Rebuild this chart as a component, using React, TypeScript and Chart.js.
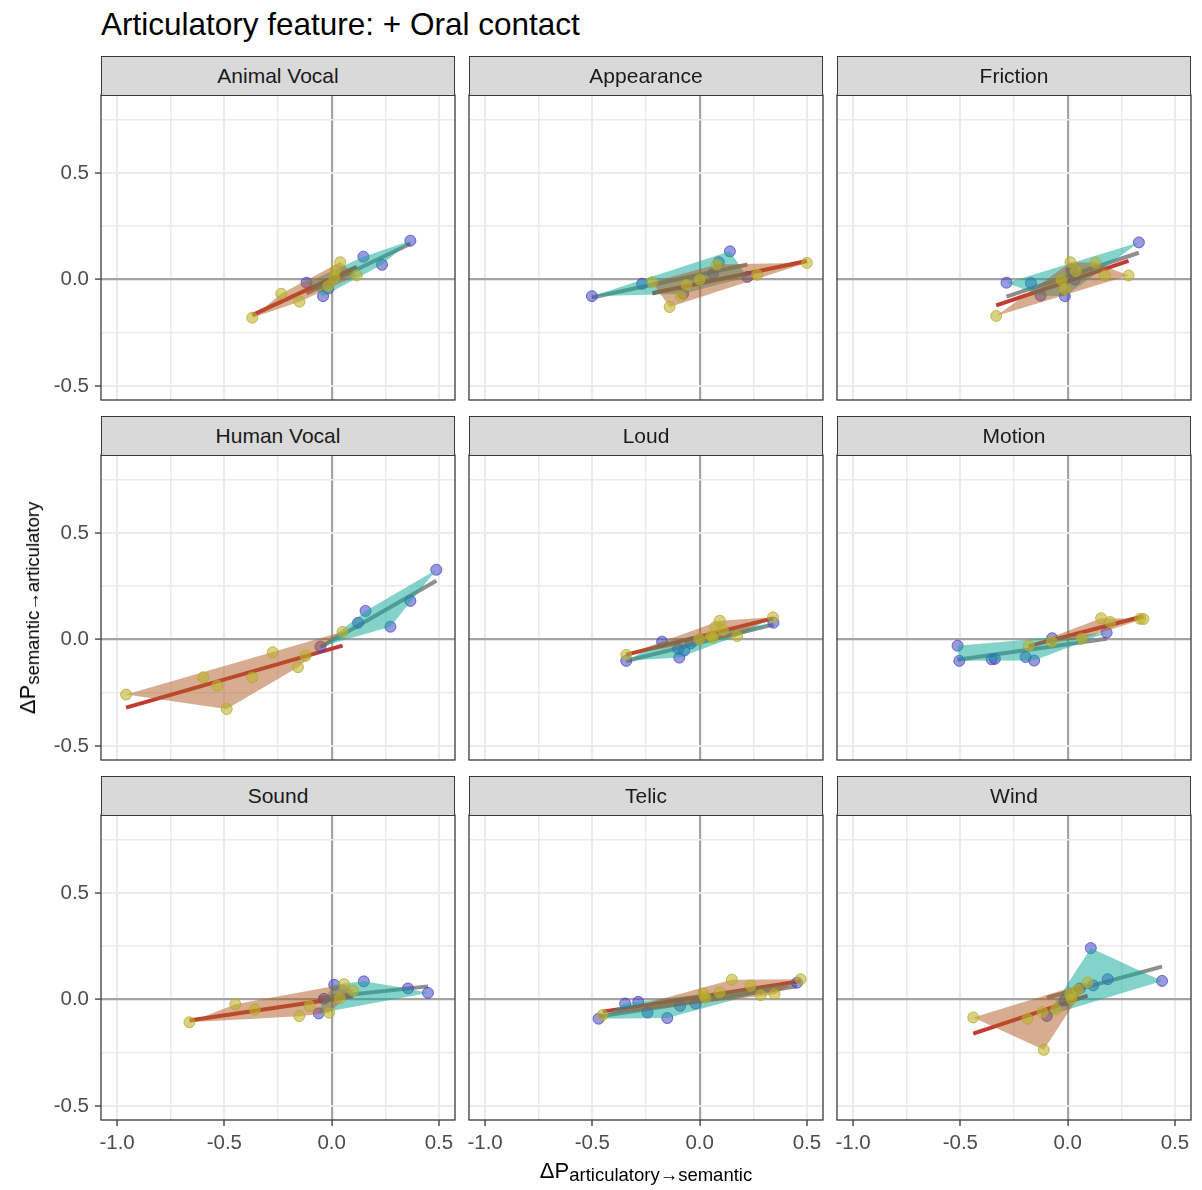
import React, { useEffect, useRef } from "react";
import { Chart, registerables } from "chart.js";

Chart.register(...registerables);

const FONT = '"Liberation Sans", Arial, Helvetica, sans-serif';

// ---------------- data ----------------
const panelTitles = [
  "Animal Vocal", "Appearance", "Friction",
  "Human Vocal", "Loud", "Motion",
  "Sound", "Telic", "Wind",
];

const xTickValues = [-1.0, -0.75, -0.5, -0.25, 0, 0.25, 0.5];
const yTickValues = [-0.5, -0.25, 0, 0.25, 0.5, 0.75];
const xLimits = [-1.075, 0.575];
const yLimits = [-0.565, 0.865];

const animalVocalBlueX = [0.367, 0.148, 0.235, -0.117, -0.040, -0.015];
const animalVocalBlueY = [0.182, 0.107, 0.069, -0.015, -0.078, -0.042];
const animalVocalYellowX = [-0.370, -0.235, -0.150, -0.016, 0.012, 0.018, 0.040, 0.117];
const animalVocalYellowY = [-0.179, -0.067, -0.104, -0.031, 0.008, 0.042, 0.081, 0.019];

const appearanceBlueX = [-0.502, -0.268, 0.141, 0.089, 0.063, 0.223, -0.077];
const appearanceBlueY = [-0.078, -0.020, 0.132, 0.081, 0.028, 0.012, -0.067];
const appearanceYellowX = [0.500, 0.268, 0.000, -0.061, -0.088, -0.140, -0.221, 0.080];
const appearanceYellowY = [0.078, 0.022, 0.000, -0.025, -0.078, -0.129, -0.012, 0.070];

const frictionBlueX = [0.332, -0.285, -0.171, -0.013, -0.126, 0.018, 0.034];
const frictionBlueY = [0.174, -0.015, -0.017, -0.078, -0.075, 0.044, 0.000];
const frictionYellowX = [-0.333, 0.013, 0.038, 0.130, 0.173, 0.284, -0.029, -0.013];
const frictionYellowY = [-0.171, 0.081, 0.039, 0.078, 0.019, 0.019, -0.003, -0.044];

const humanVocalBlueX = [0.488, 0.367, 0.158, 0.123, 0.274, -0.052];
const humanVocalBlueY = [0.327, 0.181, 0.134, 0.078, 0.060, -0.034];
const humanVocalYellowX = [-0.958, -0.598, -0.533, -0.489, -0.370, -0.275, -0.157, -0.122, 0.051];
const humanVocalYellowY = [-0.258, -0.177, -0.216, -0.326, -0.178, -0.060, -0.130, -0.077, 0.036];

const loudBlueX = [-0.342, -0.175, -0.100, -0.072, -0.095, -0.041, 0.344];
const loudBlueY = [-0.100, -0.010, -0.044, -0.052, -0.085, -0.018, 0.079];
const loudYellowX = [-0.342, -0.002, 0.052, 0.062, 0.074, 0.094, 0.109, 0.175, 0.342];
const loudYellowY = [-0.072, 0.001, 0.016, 0.010, 0.060, 0.088, 0.044, 0.016, 0.104];

const motionBlueX = [-0.513, -0.505, -0.354, -0.339, -0.196, -0.156, -0.072, 0.182];
const motionBlueY = [-0.029, -0.100, -0.093, -0.091, -0.082, -0.099, 0.006, 0.032];
const motionYellowX = [-0.181, -0.074, 0.066, 0.156, 0.198, 0.338, 0.353];
const motionYellowY = [-0.029, -0.010, 0.004, 0.100, 0.082, 0.097, 0.096];

const soundBlueX = [0.012, 0.150, 0.356, 0.449, -0.060, -0.036];
const soundBlueY = [0.069, 0.085, 0.052, 0.031, -0.065, 0.003];
const soundYellowX = [-0.663, -0.449, -0.358, -0.151, -0.103, -0.012, 0.038, 0.058, 0.100];
const soundYellowY = [-0.107, -0.022, -0.047, -0.078, -0.031, -0.062, 0.005, 0.072, 0.041];

const telicBlueX = [-0.471, -0.347, -0.286, -0.243, -0.151, -0.091, -0.019, 0.454];
const telicBlueY = [-0.090, -0.019, -0.011, -0.061, -0.087, -0.030, -0.019, 0.079];
const telicYellowX = [-0.452, 0.018, 0.027, 0.093, 0.150, 0.238, 0.285, 0.349, 0.471];
const telicYellowY = [-0.073, 0.028, 0.009, 0.033, 0.093, 0.065, 0.020, 0.025, 0.095];

const windBlueX = [0.108, 0.440, 0.187, 0.119, 0.057, -0.013, -0.097];
const windBlueY = [0.241, 0.087, 0.095, 0.066, 0.052, -0.004, -0.077];
const windYellowX = [-0.440, -0.187, -0.117, -0.111, -0.054, 0.012, 0.018, 0.047, 0.093];
const windYellowY = [-0.084, -0.090, -0.059, -0.236, -0.046, 0.023, 0.003, 0.045, 0.080];

const panelBlueX = [animalVocalBlueX, appearanceBlueX, frictionBlueX, humanVocalBlueX, loudBlueX, motionBlueX, soundBlueX, telicBlueX, windBlueX];
const panelBlueY = [animalVocalBlueY, appearanceBlueY, frictionBlueY, humanVocalBlueY, loudBlueY, motionBlueY, soundBlueY, telicBlueY, windBlueY];
const panelYellowX = [animalVocalYellowX, appearanceYellowX, frictionYellowX, humanVocalYellowX, loudYellowX, motionYellowX, soundYellowX, telicYellowX, windYellowX];
const panelYellowY = [animalVocalYellowY, appearanceYellowY, frictionYellowY, humanVocalYellowY, loudYellowY, motionYellowY, soundYellowY, telicYellowY, windYellowY];

// ---------------- layout ----------------
const PLOT_W = 354;
const PLOT_H = 305;
const COL_LEFT = [101, 469, 837];
const ROW_TOP = [95, 455, 815];
const AXIS_W = 70;
const AXIS_H = 50;
const PAD_T = 2;
const PAD_R = 4;
const TICK_FONT = 20.5;

// ---------------- helpers ----------------
type Pt = { x: number; y: number };

function toPoints(xs: number[], ys: number[]): Pt[] {
  return xs.map((x, i) => ({ x, y: ys[i] }));
}

function convexHull(pts: Pt[]): Pt[] {
  const p = pts.slice().sort((a, b) => (a.x === b.x ? a.y - b.y : a.x - b.x));
  if (p.length < 3) return p;
  const cross = (o: Pt, a: Pt, b: Pt) => (a.x - o.x) * (b.y - o.y) - (a.y - o.y) * (b.x - o.x);
  const lower: Pt[] = [];
  for (const q of p) {
    while (lower.length >= 2 && cross(lower[lower.length - 2], lower[lower.length - 1], q) <= 0) lower.pop();
    lower.push(q);
  }
  const upper: Pt[] = [];
  for (let i = p.length - 1; i >= 0; i--) {
    const q = p[i];
    while (upper.length >= 2 && cross(upper[upper.length - 2], upper[upper.length - 1], q) <= 0) upper.pop();
    upper.push(q);
  }
  upper.pop();
  lower.pop();
  const h = lower.concat(upper);
  h.push({ ...h[0] });
  return h;
}

function fitLine(xs: number[], ys: number[]): Pt[] {
  const n = xs.length;
  const mx = xs.reduce((s, v) => s + v, 0) / n;
  const my = ys.reduce((s, v) => s + v, 0) / n;
  let sxy = 0;
  let sxx = 0;
  for (let i = 0; i < n; i++) {
    sxy += (xs[i] - mx) * (ys[i] - my);
    sxx += (xs[i] - mx) * (xs[i] - mx);
  }
  const b = sxy / sxx;
  const x0 = Math.min(...xs);
  const x1 = Math.max(...xs);
  return [
    { x: x0, y: my + b * (x0 - mx) },
    { x: x1, y: my + b * (x1 - mx) },
  ];
}

const isMajor = (v: number) => Math.abs(v * 2 - Math.round(v * 2)) < 1e-9;
const isZero = (v: number) => Math.abs(v) < 1e-9;

const borderPlugin = {
  id: "panelBorder",
  afterDraw(chart: any) {
    const { ctx, chartArea: a } = chart;
    ctx.save();
    ctx.strokeStyle = "#3a3a3a";
    ctx.lineWidth = 1.3;
    ctx.strokeRect(a.left, a.top, a.right - a.left, a.bottom - a.top);
    ctx.restore();
  },
};

function gridColor(ctx: any) {
  const v = ctx.tick ? ctx.tick.value : NaN;
  if (isZero(v)) return "#a3a3a3";
  return "#ebebeb";
}
function gridWidth(ctx: any) {
  const v = ctx.tick ? ctx.tick.value : NaN;
  if (isZero(v)) return 2.2;
  return isMajor(v) ? 2 : 1.5;
}

function Panel({ idx }: { idx: number }) {
  const ref = useRef<HTMLCanvasElement | null>(null);
  const r = Math.floor(idx / 3);
  const c = idx % 3;
  const showY = c === 0;
  const showX = r === 2;
  const width = AXIS_W + PLOT_W + PAD_R;
  const height = PAD_T + PLOT_H + AXIS_H;

  useEffect(() => {
    const bx = panelBlueX[idx];
    const by = panelBlueY[idx];
    const yx = panelYellowX[idx];
    const yy = panelYellowY[idx];
    const blue = toPoints(bx, by);
    const yellow = toPoints(yx, yy);

    const chart = new Chart(ref.current as HTMLCanvasElement, {
      type: "scatter",
      data: {
        datasets: [
          {
            type: "scatter",
            data: yellow,
            pointRadius: 5.5,
            pointBackgroundColor: "rgba(190,180,45,0.6)",
            pointBorderColor: "rgba(175,165,35,0.7)",
            pointBorderWidth: 1,
            order: 0,
          } as any,
          {
            type: "line",
            data: convexHull(yellow),
            fill: "shape",
            backgroundColor: "rgba(175,90,35,0.5)",
            borderWidth: 0,
            borderColor: "rgba(0,0,0,0)",
            pointRadius: 0,
            tension: 0,
            order: 1,
          } as any,
          {
            type: "line",
            data: convexHull(blue),
            fill: "shape",
            backgroundColor: "rgba(20,170,155,0.52)",
            borderWidth: 0,
            borderColor: "rgba(0,0,0,0)",
            pointRadius: 0,
            tension: 0,
            order: 2,
          } as any,
          {
            type: "scatter",
            data: blue,
            pointRadius: 5.5,
            pointBackgroundColor: "rgba(70,70,200,0.55)",
            pointBorderColor: "rgba(60,60,190,0.7)",
            pointBorderWidth: 1,
            order: 3,
          } as any,
          {
            type: "line",
            data: fitLine(yx, yy),
            borderColor: "#c23a32",
            borderWidth: 4,
            borderCapStyle: "butt",
            pointRadius: 0,
            fill: false,
            order: 4,
          } as any,
          {
            type: "line",
            data: fitLine(bx, by),
            borderColor: "rgba(130,130,130,0.9)",
            borderWidth: 4,
            borderCapStyle: "butt",
            pointRadius: 0,
            fill: false,
            order: 5,
          } as any,
        ],
      },
      options: {
        animation: false,
        responsive: false,
        maintainAspectRatio: false,
        events: [],
        layout: { autoPadding: false, padding: { top: PAD_T, right: PAD_R, left: 0, bottom: 0 } },
        plugins: {
          legend: { display: false },
          tooltip: { enabled: false },
          title: { display: false },
        },
        scales: {
          x: {
            type: "linear",
            position: "bottom",
            min: xLimits[0],
            max: xLimits[1],
            afterBuildTicks: (s: any) => {
              s.ticks = xTickValues.map((v) => ({ value: v }));
            },
            afterFit: (s: any) => {
              s.height = AXIS_H;
              s.paddingLeft = 0;
              s.paddingRight = 0;
            },
            ticks: {
              display: showX,
              autoSkip: false,
              maxRotation: 0,
              minRotation: 0,
              padding: 5,
              color: "#4d4d4d",
              font: { family: FONT, size: TICK_FONT },
              callback: (v: any) => (isMajor(Number(v)) ? Number(v).toFixed(1) : ""),
            },
            grid: {
              color: gridColor,
              lineWidth: gridWidth,
              drawTicks: true,
              tickLength: 6,
              tickWidth: 1.3,
              tickColor: (ctx: any) =>
                showX && ctx.tick && isMajor(ctx.tick.value) ? "#333333" : "rgba(0,0,0,0)",
            },
            border: { display: false },
          },
          y: {
            type: "linear",
            position: "left",
            min: yLimits[0],
            max: yLimits[1],
            afterBuildTicks: (s: any) => {
              s.ticks = yTickValues.map((v) => ({ value: v }));
            },
            afterFit: (s: any) => {
              s.width = AXIS_W;
              s.paddingTop = 0;
              s.paddingBottom = 0;
            },
            ticks: {
              display: showY,
              autoSkip: false,
              padding: 6,
              color: "#4d4d4d",
              font: { family: FONT, size: TICK_FONT },
              callback: (v: any) => (isMajor(Number(v)) ? Number(v).toFixed(1) : ""),
            },
            grid: {
              color: gridColor,
              lineWidth: gridWidth,
              drawTicks: true,
              tickLength: 6,
              tickWidth: 1.3,
              tickColor: (ctx: any) =>
                showY && ctx.tick && isMajor(ctx.tick.value) ? "#333333" : "rgba(0,0,0,0)",
            },
            border: { display: false },
          },
        },
      } as any,
      plugins: [borderPlugin],
    });
    return () => chart.destroy();
  }, [idx]);

  return (
    <canvas
      ref={ref}
      width={width}
      height={height}
      style={{
        position: "absolute",
        left: COL_LEFT[c] - AXIS_W,
        top: ROW_TOP[r] - PAD_T,
        width,
        height,
      }}
    />
  );
}

function Strip({ idx }: { idx: number }) {
  const r = Math.floor(idx / 3);
  const c = idx % 3;
  return (
    <div
      style={{
        position: "absolute",
        left: COL_LEFT[c],
        top: ROW_TOP[r] - 39,
        width: PLOT_W,
        height: 40,
        boxSizing: "border-box",
        border: "1.3px solid #3a3a3a",
        background: "#d9d9d9",
        color: "#1a1a1a",
        fontSize: 21,
        display: "flex",
        alignItems: "center",
        justifyContent: "center",
        whiteSpace: "nowrap",
      }}
    >
      {panelTitles[idx]}
    </div>
  );
}

export default function App() {
  return (
    <div
      style={{
        position: "absolute",
        left: 0,
        top: 0,
        width: 1202,
        height: 1190,
        background: "#ffffff",
        fontFamily: FONT,
        overflow: "hidden",
      }}
    >
      <div
        style={{
          position: "absolute",
          left: 101,
          top: 8.5,
          fontSize: 31.5,
          lineHeight: 1,
          color: "#000",
          whiteSpace: "nowrap",
        }}
      >
        Articulatory feature: + Oral contact
      </div>
      {panelTitles.map((_, i) => (
        <Panel key={"p" + i} idx={i} />
      ))}
      {panelTitles.map((_, i) => (
        <Strip key={"s" + i} idx={i} />
      ))}
      <div
        style={{
          position: "absolute",
          left: 646,
          top: 1159.5,
          transform: "translateX(-50%)",
          fontSize: 22,
          lineHeight: 1,
          color: "#000",
          whiteSpace: "nowrap",
        }}
      >
        ΔP
        <span style={{ fontSize: 18.5, position: "relative", top: 3.5 }}>articulatory→semantic</span>
      </div>
      <div
        style={{
          position: "absolute",
          left: 27.5,
          top: 607.5,
          transform: "translate(-50%, -50%) rotate(-90deg)",
          fontSize: 22,
          lineHeight: 1,
          color: "#000",
          whiteSpace: "nowrap",
        }}
      >
        ΔP
        <span style={{ fontSize: 18.5, position: "relative", top: 3.5 }}>semantic→articulatory</span>
      </div>
    </div>
  );
}
